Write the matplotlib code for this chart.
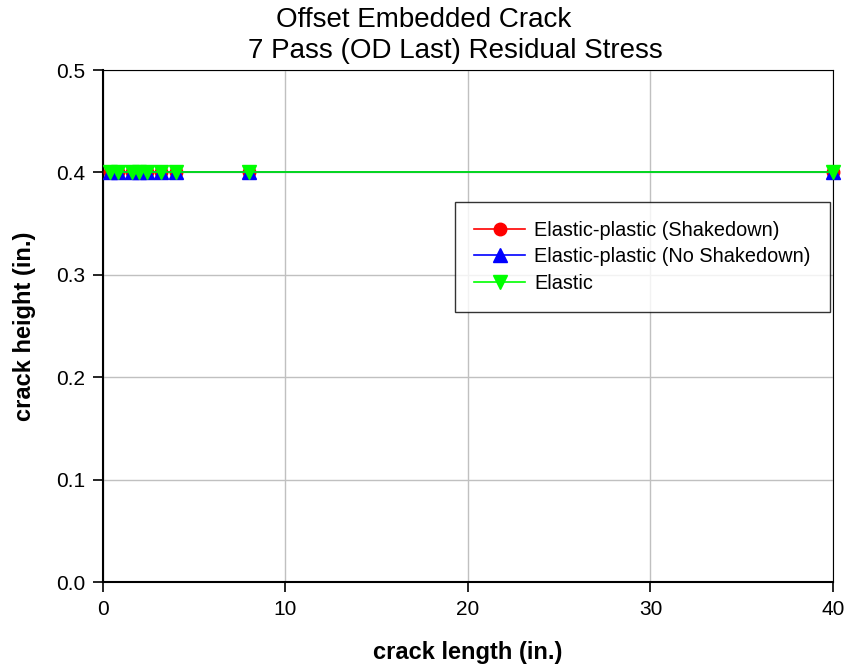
import matplotlib
matplotlib.use("Agg")
import matplotlib.pyplot as plt

plt.rcParams['font.family'] = ['Liberation Sans', 'DejaVu Sans']

# crack length (in.) and crack height (in.) for each analysis case
crack_length = [0.4, 0.8, 1.6, 2.0, 2.4, 3.2, 4.0, 8.0, 40.0]
height_shakedown = [0.4, 0.4, 0.4, 0.4, 0.4, 0.4, 0.4, 0.4, 0.4]
height_no_shakedown = [0.4, 0.4, 0.4, 0.4, 0.4, 0.4, 0.4, 0.4, 0.4]
height_elastic = [0.4, 0.4, 0.4, 0.4, 0.4, 0.4, 0.4, 0.4, 0.4]

x_ticks = [0, 10, 20, 30, 40]
y_ticks = [0.0, 0.1, 0.2, 0.3, 0.4, 0.5]

fig = plt.figure(figsize=(8.49, 6.70), dpi=100)
ax = fig.add_axes([0.1213, 0.1313, 0.8598, 0.7642])

ax.plot(crack_length, height_shakedown, color='#ff0000', marker='o', ms=9,
        lw=1.2, label='Elastic-plastic (Shakedown)', clip_on=False, zorder=3)
ax.plot(crack_length, height_no_shakedown, color='#0000ff', marker='^', ms=10,
        lw=1.2, label='Elastic-plastic (No Shakedown)', clip_on=False, zorder=4)
ax.plot(crack_length, height_elastic, color='#00ff00', marker='v', ms=10,
        lw=1.2, label='Elastic', clip_on=False, zorder=5)

ax.set_xlim(0, 40)
ax.set_ylim(0, 0.5)
ax.set_xticks(x_ticks)
ax.set_yticks(y_ticks)
ax.set_yticklabels([f'{v:.1f}' for v in y_ticks])
ax.grid(True, color='#c0c0c0', lw=1)
ax.set_axisbelow(True)
ax.tick_params(direction='out', length=7, width=1.2, labelsize=15, pad=6)

for side in ['left', 'bottom']:
    ax.spines[side].set_linewidth(1.5)
for side in ['top', 'right']:
    ax.spines[side].set_linewidth(0.8)

ax.set_xlabel('crack length (in.)', fontsize=17, fontweight='bold', labelpad=16)
ax.set_ylabel('crack height (in.)', fontsize=17, fontweight='bold', labelpad=14)

fig.text(424 / 849, 1 - 20 / 670, 'Offset Embedded Crack', ha='center',
         va='center', fontsize=20)
fig.text(455 / 849, 1 - 51 / 670, '7 Pass (OD Last) Residual Stress',
         ha='center', va='center', fontsize=20)

leg = ax.legend(loc='upper left', bbox_to_anchor=(0.482, 0.7426),
                fontsize=14.3, frameon=True, fancybox=False, borderpad=0.95,
                handlelength=2.6, handletextpad=0.45, labelspacing=0.38,
                borderaxespad=0)
leg.get_frame().set_edgecolor('black')
leg.get_frame().set_linewidth(1)

fig.savefig('out.png', dpi=100)
